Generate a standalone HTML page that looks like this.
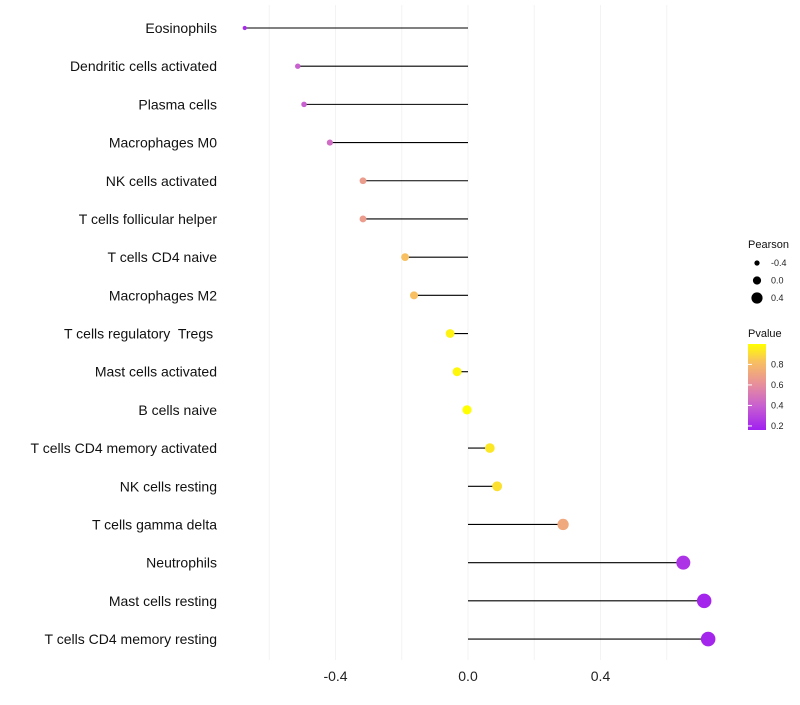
<!DOCTYPE html>
<html><head><meta charset="utf-8"><style>
body{margin:0;background:#fff;font-family:"Liberation Sans",sans-serif}
text{white-space:pre}
</style></head><body>
<svg id="chart" width="800" height="700" xmlns="http://www.w3.org/2000/svg"></svg>
<script>
const categories=["Eosinophils","Dendritic cells activated","Plasma cells","Macrophages M0","NK cells activated","T cells follicular helper","T cells CD4 naive","Macrophages M2","T cells regulatory  Tregs ","Mast cells activated","B cells naive","T cells CD4 memory activated","NK cells resting","T cells gamma delta","Neutrophils","Mast cells resting","T cells CD4 memory resting"];
const pearson=[-0.674,-0.514,-0.495,-0.417,-0.317,-0.317,-0.19,-0.163,-0.054,-0.033,-0.003,0.066,0.088,0.287,0.65,0.713,0.725];
const pvalue=[0.22,0.4,0.4,0.45,0.65,0.65,0.8,0.8,0.93,0.94,0.98,0.9,0.88,0.7,0.25,0.2,0.2];
const xTicks=[-0.4,0.0,0.4];
const xGrid=[-0.6,-0.4,-0.2,0,0.2,0.4,0.6];
const sizeLegend=[-0.4,0.0,0.4];
const colorTicks=[0.8,0.6,0.4,0.2];

const NS="http://www.w3.org/2000/svg";
const svg=document.getElementById('chart');
const x=v=>468+v*331.25;
const y=i=>28+i*38.19;
const r=v=>4.6+3.7*v;
const stops=[[0.18,[160,32,240]],[0.4,[200,96,208]],[0.6,[232,144,154]],[0.8,[248,192,96]],[0.96,[255,255,0]]];
function col(p){
 if(p<=stops[0][0])return `rgb(${stops[0][1]})`;
 for(let k=1;k<stops.length;k++){if(p<=stops[k][0]){const a=stops[k-1],b=stops[k],t=(p-a[0])/(b[0]-a[0]);return 'rgb('+a[1].map((c,j)=>Math.round(c+(b[1][j]-c)*t)).join(',')+')';}}
 return 'rgb(255,255,0)';
}
const cy=p=>428-(p-0.18)/(0.96-0.18)*80;
function el(t,a,txt){const e=document.createElementNS(NS,t);for(const k in a)e.setAttribute(k,a[k]);if(txt!==undefined)e.textContent=txt;svg.appendChild(e);return e;}

xGrid.forEach(v=>{const g=el('line',{x1:x(v),x2:x(v),y1:5,y2:660,stroke:'#f3f3f3','stroke-width':1});

});
xTicks.forEach(v=>{const t=el('text',{x:x(v),y:681,'text-anchor':'middle','font-size':14,fill:'#222'},v.toFixed(1));

});

categories.forEach((c,i)=>{
 const t=el('text',{x:217,y:y(i)+5,'text-anchor':'end','font-size':14,fill:'#111','xml:space':'preserve'},c);
 
 
 const l=el('line',{x1:x(0),x2:x(pearson[i]),y1:y(i),y2:y(i),stroke:'#000','stroke-width':1.1});
 
 
 const p=el('circle',{cx:x(pearson[i]),cy:y(i),r:r(pearson[i]),fill:col(pvalue[i])});
 
 
});

const st=el('text',{x:748,y:248,'font-size':11,fill:'#111'},'Pearson');


sizeLegend.forEach((v,k)=>{
 const yy=263+k*17.5;
 const c=el('circle',{cx:757,cy:yy,r:r(v)-0.5,fill:'#000'});
 
 
 const t=el('text',{x:771,y:yy+3,'font-size':9,fill:'#222'},v.toFixed(1));
 
 
});
const ct=el('text',{x:748,y:337,'font-size':11,fill:'#111'},'Pvalue');


const defs=el('defs',{});
const lg=document.createElementNS(NS,'linearGradient');lg.setAttribute('id','pg');lg.setAttribute('x1',0);lg.setAttribute('x2',0);lg.setAttribute('y1',1);lg.setAttribute('y2',0);
stops.forEach(s=>{const o=document.createElementNS(NS,'stop');o.setAttribute('offset',(s[0]-0.18)/(0.78));o.setAttribute('stop-color',`rgb(${s[1]})`);lg.appendChild(o);});
defs.appendChild(lg);
const bar=el('rect',{x:748,y:344,width:18,height:86,fill:'url(#pg)'});


colorTicks.forEach(v=>{
 const yy=cy(v);
 const t=el('text',{x:771,y:yy+3,'font-size':9,fill:'#222'},v.toFixed(1));
 
 
 const l=el('line',{x1:748,x2:752,y1:yy,y2:yy,stroke:'#fff','stroke-width':1});
 
 
});
</script>
</body></html>
